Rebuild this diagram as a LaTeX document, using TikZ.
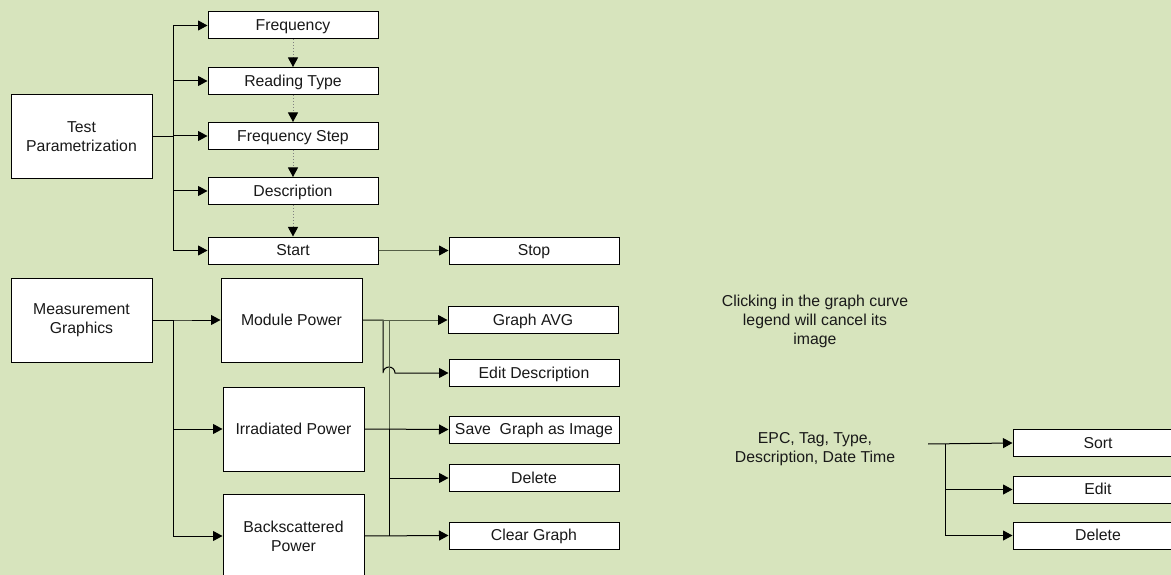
\documentclass[tikz,border=0pt]{standalone}
\usepackage{fontspec}
\setmainfont{Liberation Sans}
\usetikzlibrary{arrows.meta}
\definecolor{pagegreen}{RGB}{215,228,189}
\definecolor{linkgray}{RGB}{84,94,70}

\begin{document}
\begin{tikzpicture}[x=1pt, y=-1pt, ->, >={Triangle[length=9.5pt,width=10pt,color=black,fill=black]}, line width=1pt,
	menu box/.style={rectangle, draw, fill=white, minimum width=170pt, minimum height=27pt, inner sep=0pt, text height=14.3pt, text depth=3.35pt, font=\fontsize{15.8}{19}\selectfont, text=black!90},
	big box/.style={rectangle, draw, fill=white, minimum width=141pt, minimum height=84pt, inner sep=0pt, align=center, font=\fontsize{15.8}{19}\selectfont, text=black!90},
	note/.style={align=center, inner sep=0pt, font=\fontsize{15.8}{19}\selectfont, text=black!90},
	dot link/.style={dotted, draw=gray}]
	\fill[pagegreen] (0,0) rectangle (1171,575);
	\useasboundingbox (0,0) rectangle (1171,575);
	% test parametrization
	\node[big box] (TP) at (81.5,136.5) {Test\\Parametrization};
	\node[menu box] (Freq) at (293,25.5) {Frequency};
	\node[menu box] (Read) at (293,81) {Reading Type};
	\node[menu box] (Step) at (293,136) {Frequency Step};
	\node[menu box] (Desc) at (293,191) {Description};
	\node[menu box] (Start) at (293,250.5) {Start};
	\node[menu box] (Stop) at (534,250.5) {Stop};
	\foreach \n in {Freq,Read,Step,Desc,Start}
		\draw (TP.east) -- +(21,0) |- (\n.west);
	\path[dot link]
		(Freq) edge (Read)
		(Read) edge (Step)
		(Step) edge (Desc)
		(Desc) edge (Start);
	\draw[linkgray] (Start) -- (Stop);
	% measurement graphics
	\node[big box] (MG) at (81.5,320) {Measurement\\Graphics};
	\node[big box] (MP) at (291.5,320) {Module Power};
	\node[big box] (IP) at (293.5,429) {Irradiated Power};
	\node[big box] (BP) at (293.5,536) {Backscattered\\Power};
	\foreach \n in {MP,IP,BP}
		\draw (MG.east) -- +(21,0) |- (\n.west);
	\node[menu box] (AVG) at (533,320) {Graph AVG};
	\node[menu box] (EdDesc) at (534,373) {Edit Description};
	\node[menu box] (Save) at (534,429.5) {Save\ \ Graph as Image};
	\node[menu box] (Del) at (534,478) {Delete};
	\node[menu box] (Clear) at (534,535.5) {Clear Graph};
	\coordinate (hop) at (383,373);
	\coordinate (bus) at (389,429);
	\draw[linkgray] (MP.east) -- (AVG.west);
	\draw (MP.east) -| (hop) arc[start angle=180, end angle=0, radius=6pt] -- (EdDesc.west);
	\draw[-, linkgray] (MP.east) -| (bus);
	\draw (IP.east) -- (Save.west);
	\draw[-] (bus) -- (BP.east -| bus);
	\draw (Del.west -| bus) -- (Del.west);
	\draw (BP.east) -- (Clear.west);
	% notes and table menu
	\node[note] (Legend) at (815,321) {Clicking in the graph curve\\legend will cancel its\\image};
	\node[note] (EPC) at (815,449) {EPC, Tag, Type,\\Description, Date Time};
	\node[menu box] (Sort) at (1098,443) {Sort};
	\node[menu box] (Edit) at (1098,489.5) {Edit};
	\node[menu box] (Del2) at (1098,535.5) {Delete};
	\coordinate (colend) at (928,444);
	\coordinate (coltrunk) at (945,444);
	\draw (colend) -- (Sort.west);
	\draw (coltrunk) |- (Edit.west);
	\draw (coltrunk) |- (Del2.west);
\end{tikzpicture}
\end{document}
